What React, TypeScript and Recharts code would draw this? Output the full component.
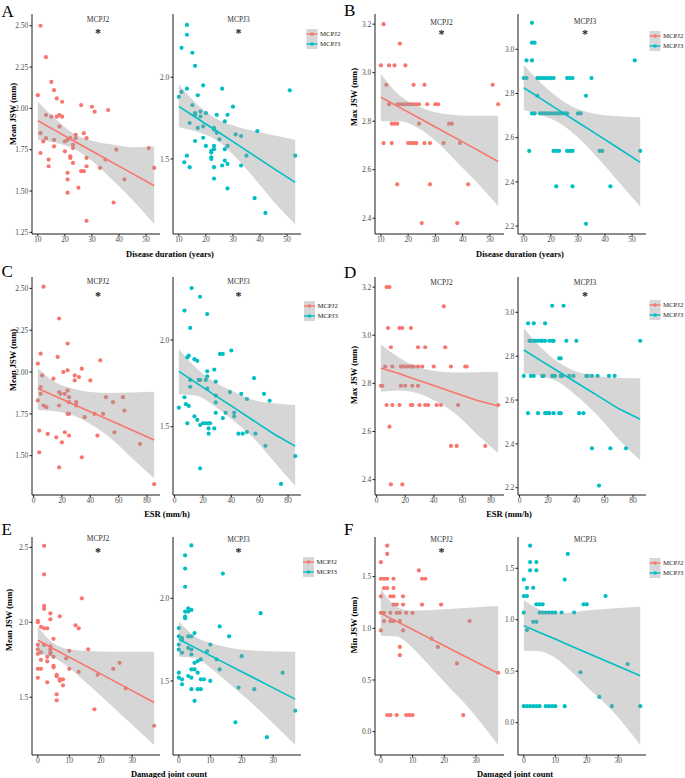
import React from "react"
import { ComposedChart, Scatter, Area, Line, XAxis, YAxis } from "recharts"

const RED = "#F8766D"
const TEAL = "#00BFC4"
const SERIF = "'Liberation Serif', 'Times New Roman', serif"

// x axis ticks
const DUR_TICKS = [10, 20, 30, 40, 50]
const ESR_TICKS = [0, 20, 40, 60, 80]
const DJC_TICKS = [0, 10, 20, 30]

// x positions where the fitted line and the 95% band were read
const DUR_BX = [10, 17, 24, 31, 38, 45, 53]
const ESR_BX = [3, 15, 28, 40, 55, 70, 85]
const DJC_BX = [0, 5, 10, 15, 20, 28, 37]

// A: disease duration vs mean JSW
const A_J2_x = [11, 13, 15, 16, 17, 19, 10, 13, 15, 17, 18, 19, 18, 26, 30, 31, 36, 11, 12, 13, 16, 16, 20, 21, 22, 24, 24, 23, 23, 27, 28, 11, 14, 14, 20, 22, 22, 23, 28, 28, 26, 27, 33, 35, 39, 51, 53, 21, 21, 25, 21, 42, 38, 28]
const A_J2_y = [2.5, 2.31, 2.16, 2.11, 2.06, 2.04, 2.08, 1.96, 1.95, 1.95, 1.96, 1.95, 1.89, 2.02, 2.01, 1.98, 1.99, 1.85, 1.8, 1.82, 1.81, 1.77, 1.8, 1.81, 1.82, 1.82, 1.84, 1.78, 1.76, 1.85, 1.82, 1.73, 1.69, 1.65, 1.74, 1.71, 1.7, 1.67, 1.7, 1.65, 1.62, 1.62, 1.64, 1.69, 1.75, 1.76, 1.64, 1.61, 1.57, 1.52, 1.49, 1.57, 1.43, 1.32]
const A_J2_lo = [1.81, 1.79, 1.75, 1.67, 1.56, 1.445, 1.3]
const A_J2_hi = [2.04, 1.93, 1.84, 1.8, 1.78, 1.765, 1.77]
const A_J2_fit = [1.925, 1.861, 1.797, 1.733, 1.669, 1.605, 1.532]

const A_J3_x = [13, 13, 11, 15, 16, 10, 11, 13, 19, 26, 17, 15, 16, 16, 18, 18, 20, 24, 28, 30, 14, 17, 19, 23, 23, 24, 25, 27, 31, 33, 39, 16, 19, 20, 23, 22, 22, 23, 22, 22, 28, 27, 35, 13, 12, 14, 23, 26, 27, 28, 33, 23, 28, 38, 42, 51, 53]
const A_J3_y = [2.32, 2.26, 2.18, 2.15, 2.07, 1.88, 1.91, 1.93, 1.95, 1.93, 1.89, 1.83, 1.78, 1.77, 1.79, 1.76, 1.78, 1.77, 1.77, 1.82, 1.72, 1.69, 1.7, 1.69, 1.68, 1.66, 1.62, 1.73, 1.65, 1.64, 1.67, 1.61, 1.63, 1.58, 1.58, 1.55, 1.54, 1.56, 1.51, 1.5, 1.58, 1.56, 1.52, 1.52, 1.48, 1.45, 1.45, 1.46, 1.49, 1.47, 1.46, 1.38, 1.32, 1.26, 1.17, 1.92, 1.52]
const A_J3_lo = [1.694, 1.665, 1.615, 1.51, 1.38, 1.24, 1.1]
const A_J3_hi = [1.955, 1.83, 1.745, 1.7, 1.67, 1.645, 1.616]
const A_J3_fit = [1.822, 1.746, 1.671, 1.595, 1.519, 1.443, 1.357]

// B: disease duration vs max JSW (values sit on a few levels)
const B_J2_levels = [3.2, 3.12, 3.03, 2.95, 2.87, 2.79, 2.71, 2.54, 2.38]
const B_J2_xs = [[11], [17], [10, 13, 15, 19], [12, 22, 26, 51], [13, 16, 17, 18, 19, 20, 21, 22, 23, 24, 27, 30, 31, 53], [14, 15, 16, 24, 35, 36], [11, 14, 20, 21, 22, 23, 26, 28, 33, 39], [16, 28, 42], [25, 38]]
const B_J2_lo = [2.8, 2.8, 2.77, 2.71, 2.63, 2.55, 2.45]
const B_J2_hi = [2.995, 2.905, 2.86, 2.835, 2.825, 2.822, 2.823]
const B_J2_fit = [2.899, 2.856, 2.813, 2.77, 2.727, 2.684, 2.634]

const B_J3_levels = [3.12, 3.03, 2.95, 2.87, 2.79, 2.71, 2.54, 2.38, 2.21]
const B_J3_xs = [[13], [13, 14], [11, 13, 51], [10, 11, 15, 16, 17, 18, 19, 20, 21, 26, 27, 28, 35], [15, 33], [13, 14, 16, 17, 18, 19, 20, 21, 22, 23, 24, 25, 26, 30, 31], [12, 21, 22, 23, 26, 27, 28, 38, 39, 53], [22, 28, 42], [33]]
const B_J3_lo = [2.725, 2.7, 2.66, 2.59, 2.5, 2.4, 2.288]
const B_J3_hi = [2.929, 2.84, 2.77, 2.725, 2.705, 2.697, 2.692]
const B_J3_fit = [2.826, 2.771, 2.716, 2.662, 2.607, 2.552, 2.488]

// C: ESR vs mean JSW
const C_J2_x = [7, 18, 24, 5, 17, 3, 6, 21, 24, 34, 47, 14, 29, 29, 32, 40, 51, 24, 18, 19, 25, 22, 5, 5, 3, 7, 9, 18, 25, 30, 30, 36, 43, 49, 56, 63, 64, 4, 10, 16, 22, 24, 25, 25, 4, 20, 34, 18, 45, 57, 75, 85]
const C_J2_y = [2.51, 2.32, 2.17, 2.11, 2.09, 2.05, 1.98, 2.0, 2.01, 2.02, 2.07, 1.96, 1.98, 1.95, 1.97, 1.95, 1.85, 1.89, 1.88, 1.87, 1.85, 1.87, 1.91, 1.87, 1.83, 1.8, 1.79, 1.8, 1.82, 1.8, 1.82, 1.73, 1.75, 1.75, 1.82, 1.85, 1.77, 1.65, 1.63, 1.61, 1.64, 1.75, 1.75, 1.62, 1.52, 1.58, 1.49, 1.43, 1.62, 1.64, 1.57, 1.33]
const C_J2_lo = [1.773, 1.765, 1.74, 1.69, 1.6, 1.48, 1.365]
const C_J2_hi = [2.022, 1.94, 1.9, 1.88, 1.875, 1.878, 1.882]
const C_J2_fit = [1.902, 1.857, 1.808, 1.763, 1.707, 1.65, 1.594]

const C_J3_x = [12, 18, 7, 23, 11, 40, 32, 34, 9, 10, 14, 16, 23, 28, 23, 17, 18, 11, 22, 56, 29, 11, 23, 39, 47, 63, 67, 51, 7, 8, 10, 29, 29, 3, 29, 36, 42, 42, 14, 16, 9, 18, 20, 22, 24, 25, 24, 24, 28, 34, 45, 48, 51, 57, 64, 18, 75, 85]
const C_J3_y = [2.3, 2.25, 2.17, 2.15, 2.07, 1.94, 1.92, 1.92, 1.9, 1.91, 1.89, 1.88, 1.82, 1.83, 1.79, 1.77, 1.77, 1.77, 1.77, 1.78, 1.76, 1.73, 1.72, 1.7, 1.69, 1.69, 1.65, 1.66, 1.67, 1.63, 1.62, 1.68, 1.64, 1.61, 1.58, 1.58, 1.58, 1.56, 1.56, 1.54, 1.52, 1.51, 1.52, 1.52, 1.52, 1.52, 1.49, 1.46, 1.49, 1.55, 1.46, 1.46, 1.47, 1.46, 1.39, 1.26, 1.17, 1.33]
const C_J3_lo = [1.688, 1.68, 1.62, 1.545, 1.44, 1.3, 1.158]
const C_J3_hi = [1.948, 1.84, 1.76, 1.71, 1.655, 1.635, 1.625]
const C_J3_fit = [1.819, 1.754, 1.684, 1.62, 1.539, 1.458, 1.388]

// D: ESR vs max JSW
const D_J2_levels = [3.2, 3.12, 3.03, 2.95, 2.87, 2.79, 2.71, 2.62, 2.54, 2.38]
const D_J2_xs = [[7, 9], [47], [8, 16, 18, 24], [10, 29, 34, 48], [6, 11, 17, 18, 19, 21, 22, 24, 25, 26, 29, 32, 40, 52, 62, 63], [3, 4, 17, 20, 25, 29], [7, 11, 16, 24, 25, 30, 34, 36, 42, 45, 57, 85], [9], [52, 56, 76], [10, 18]]
const D_J2_lo = [2.765, 2.77, 2.76, 2.73, 2.675, 2.59, 2.509]
const D_J2_hi = [2.963, 2.91, 2.87, 2.852, 2.845, 2.846, 2.848]
const D_J2_fit = [2.864, 2.842, 2.815, 2.791, 2.76, 2.73, 2.706]

const D_J3_levels = [3.03, 2.95, 2.87, 2.79, 2.71, 2.54, 2.38, 2.21]
const D_J3_xs = [[23, 31], [6, 10, 18], [7, 8, 10, 11, 13, 15, 16, 18, 21, 23, 24, 33, 40, 85], [28, 29], [3, 8, 10, 16, 17, 23, 24, 25, 29, 30, 35, 38, 47, 48, 51, 55, 63, 67], [6, 13, 18, 19, 20, 21, 24, 28, 29, 42, 45], [51, 64, 75], [56]]
const D_J3_lo = [2.722, 2.71, 2.68, 2.62, 2.53, 2.42, 2.326]
const D_J3_hi = [2.927, 2.84, 2.77, 2.73, 2.71, 2.7, 2.699]
const D_J3_fit = [2.828, 2.78, 2.728, 2.68, 2.62, 2.56, 2.512]

// E: damaged joint count vs mean JSW
const E_J2_x = [2, 2, 2, 2, 4, 4, 0, 0, 7, 14, 12, 13, 1, 2, 3, 5, 0, 0, 2, 4, 4, 4, 4, 1, 0, 10, 16, 3, 3, 1, 5, 9, 5, 5, 0, 1, 10, 6, 6, 7, 7, 8, 8, 13, 19, 24, 26, 0, 3, 6, 6, 18, 28, 37]
const E_J2_y = [2.51, 2.32, 2.11, 2.09, 2.06, 2.02, 2.01, 2.0, 2.04, 2.16, 1.98, 1.96, 1.97, 1.96, 1.96, 1.89, 1.85, 1.82, 1.85, 1.84, 1.82, 1.8, 1.79, 1.8, 1.79, 1.81, 1.82, 1.77, 1.74, 1.75, 1.77, 1.76, 1.71, 1.7, 1.69, 1.69, 1.69, 1.65, 1.64, 1.62, 1.61, 1.62, 1.58, 1.67, 1.65, 1.69, 1.73, 1.63, 1.6, 1.52, 1.48, 1.42, 1.56, 1.31]
const E_J2_lo = [1.789, 1.765, 1.695, 1.605, 1.51, 1.355, 1.182]
const E_J2_hi = [1.971, 1.86, 1.82, 1.81, 1.806, 1.804, 1.804]
const E_J2_fit = [1.88, 1.824, 1.768, 1.712, 1.656, 1.566, 1.465]

const E_J3_x = [4, 2, 2, 2, 14, 3, 4, 2, 3, 2, 2, 26, 13, 0, 16, 3, 4, 5, 0, 1, 1, 0, 0, 3, 4, 1, 4, 10, 9, 7, 6, 5, 4, 5, 12, 13, 20, 3, 6, 0, 0, 1, 1, 4, 7, 8, 10, 6, 7, 4, 5, 19, 24, 33, 37, 18, 28]
const E_J3_y = [2.32, 2.26, 2.18, 2.07, 2.15, 1.94, 1.93, 1.92, 1.92, 1.89, 1.88, 1.91, 1.83, 1.82, 1.77, 1.77, 1.77, 1.79, 1.77, 1.76, 1.75, 1.72, 1.69, 1.7, 1.69, 1.67, 1.66, 1.72, 1.68, 1.63, 1.62, 1.61, 1.57, 1.57, 1.63, 1.57, 1.65, 1.53, 1.55, 1.55, 1.52, 1.51, 1.48, 1.52, 1.51, 1.51, 1.5, 1.45, 1.45, 1.45, 1.38, 1.46, 1.45, 1.55, 1.32, 1.25, 1.16]
const E_J3_lo = [1.647, 1.64, 1.58, 1.5, 1.42, 1.28, 1.113]
const E_J3_hi = [1.859, 1.77, 1.73, 1.705, 1.69, 1.68, 1.677]
const E_J3_fit = [1.752, 1.703, 1.654, 1.605, 1.556, 1.478, 1.39]

// F: damaged joint count vs min JSW
const F_J2_levels = [1.8, 1.72, 1.64, 1.56, 1.48, 1.39, 1.31, 1.23, 1.15, 1.07, 0.98, 0.9, 0.82, 0.74, 0.66, 0.57, 0.16]
const F_J2_xs = [[2], [2], [0], [12], [0, 1, 2, 4, 13, 14], [1, 2, 4], [0, 3, 4, 7], [4, 5, 7, 13, 19], [0, 1, 3, 5, 6, 8, 10], [1, 3, 4, 6, 28], [0, 7], [16], [6, 18], [6], [24], [37], [2, 3, 5, 8, 9, 10, 26]]
const F_J2_lo = [0.929, 0.92, 0.81, 0.65, 0.48, 0.22, -0.129]
const F_J2_hi = [1.381, 1.21, 1.17, 1.175, 1.185, 1.2, 1.216]
const F_J2_fit = [1.145, 1.067, 0.988, 0.91, 0.831, 0.706, 0.565]

const F_J3_levels = [1.72, 1.64, 1.56, 1.48, 1.39, 1.31, 1.23, 1.15, 1.07, 0.98, 0.9, 0.57, 0.49, 0.25, 0.16]
const F_J3_xs = [[2], [14], [2, 4], [2, 4], [0, 13], [1, 3], [0, 1, 26], [4, 5, 6, 19, 20], [0, 5, 6, 7, 8, 9, 10, 12, 16], [3, 4], [1], [33], [18], [24], [0, 1, 2, 3, 4, 5, 7, 8, 9, 10, 13, 28, 37]]
const F_J3_lo = [0.7, 0.695, 0.63, 0.5, 0.35, 0.12, -0.217]
const F_J3_hi = [1.192, 1.1, 1.065, 1.07, 1.09, 1.11, 1.127]
const F_J3_fit = [0.943, 0.877, 0.812, 0.746, 0.68, 0.575, 0.457]

function fromLevels(levels: number[], xs: number[][]) {
  const x: number[] = []
  const y: number[] = []
  levels.forEach((lv, i) => xs[i].forEach((v) => { x.push(v); y.push(lv) }))
  return { x, y }
}

const B2 = fromLevels(B_J2_levels, B_J2_xs)
const B3 = fromLevels(B_J3_levels, B_J3_xs)
const D2 = fromLevels(D_J2_levels, D_J2_xs)
const D3 = fromLevels(D_J3_levels, D_J3_xs)
const F2 = fromLevels(F_J2_levels, F_J2_xs)
const F3 = fromLevels(F_J3_levels, F_J3_xs)

// layout (pixels)
const COLS = [32, 173, 375, 518]
const COL_W = [128, 128, 129, 128]
const ROWS = [14, 277, 537]
const ROW_H = [220, 218, 218]
const YW = 30
const XH = 15

const DUR_DOM = [7.85, 55.15]
const ESR_DOM = [-1.1, 89.1]
const DJC_DOM = [-1.85, 38.85]

const MEAN2 = [1.25, 1.5, 1.75, 2.0, 2.25, 2.5]
const MEAN3 = [1.5, 2.0]
const MAX2 = [2.4, 2.6, 2.8, 3.0, 3.2]
const MAX3 = [2.2, 2.4, 2.6, 2.8, 3.0]
const MEANE2 = [1.5, 2.0, 2.5]
const MIN_T = [0, 0.5, 1.0, 1.5]

const subplots = [
  { col: 0, row: 0, x: A_J2_x, y: A_J2_y, bx: DUR_BX, lo: A_J2_lo, hi: A_J2_hi, fit: A_J2_fit, color: RED, xd: DUR_DOM, xt: DUR_TICKS, yd: [1.24, 2.571], yt: MEAN2, dg: 2 },
  { col: 1, row: 0, x: A_J3_x, y: A_J3_y, bx: DUR_BX, lo: A_J3_lo, hi: A_J3_hi, fit: A_J3_fit, color: TEAL, xd: DUR_DOM, xt: DUR_TICKS, yd: [1.041, 2.387], yt: MEAN3, dg: 1 },
  { col: 2, row: 0, x: B2.x, y: B2.y, bx: DUR_BX, lo: B_J2_lo, hi: B_J2_hi, fit: B_J2_fit, color: RED, xd: DUR_DOM, xt: DUR_TICKS, yd: [2.335, 3.242], yt: MAX2, dg: 1 },
  { col: 3, row: 0, x: B3.x, y: B3.y, bx: DUR_BX, lo: B_J3_lo, hi: B_J3_hi, fit: B_J3_fit, color: TEAL, xd: DUR_DOM, xt: DUR_TICKS, yd: [2.164, 3.16], yt: MAX3, dg: 1 },
  { col: 0, row: 1, x: C_J2_x, y: C_J2_y, bx: ESR_BX, lo: C_J2_lo, hi: C_J2_hi, fit: C_J2_fit, color: RED, xd: ESR_DOM, xt: ESR_TICKS, yd: [1.265, 2.568], yt: MEAN2.slice(1), dg: 2 },
  { col: 1, row: 1, x: C_J3_x, y: C_J3_y, bx: ESR_BX, lo: C_J3_lo, hi: C_J3_hi, fit: C_J3_fit, color: TEAL, xd: ESR_DOM, xt: ESR_TICKS, yd: [1.106, 2.364], yt: MEAN3, dg: 1 },
  { col: 2, row: 1, x: D2.x, y: D2.y, bx: ESR_BX, lo: D_J2_lo, hi: D_J2_hi, fit: D_J2_fit, color: RED, xd: ESR_DOM, xt: ESR_TICKS, yd: [2.336, 3.242], yt: MAX2, dg: 1 },
  { col: 3, row: 1, x: D3.x, y: D3.y, bx: ESR_BX, lo: D_J3_lo, hi: D_J3_hi, fit: D_J3_fit, color: TEAL, xd: ESR_DOM, xt: ESR_TICKS, yd: [2.167, 3.161], yt: MAX3, dg: 1 },
  { col: 0, row: 2, x: E_J2_x, y: E_J2_y, bx: DJC_BX, lo: E_J2_lo, hi: E_J2_hi, fit: E_J2_fit, color: RED, xd: DJC_DOM, xt: DJC_TICKS, yd: [1.115, 2.569], yt: MEANE2, dg: 1 },
  { col: 1, row: 2, x: E_J3_x, y: E_J3_y, bx: DJC_BX, lo: E_J3_lo, hi: E_J3_hi, fit: E_J3_fit, color: TEAL, xd: DJC_DOM, xt: DJC_TICKS, yd: [1.052, 2.371], yt: MEAN3, dg: 1 },
  { col: 2, row: 2, x: F2.x, y: F2.y, bx: DJC_BX, lo: F_J2_lo, hi: F_J2_hi, fit: F_J2_fit, color: RED, xd: DJC_DOM, xt: DJC_TICKS, yd: [-0.226, 1.884], yt: MIN_T, dg: 1 },
  { col: 3, row: 2, x: F3.x, y: F3.y, bx: DJC_BX, lo: F_J3_lo, hi: F_J3_hi, fit: F_J3_fit, color: TEAL, xd: DJC_DOM, xt: DJC_TICKS, yd: [-0.314, 1.804], yt: MIN_T, dg: 1 },
]

const tickStyle = { fontSize: 7.5, fill: "#4d4d4d", fontFamily: SERIF }

function Subplot({ s }: { s: any }) {
  const left = COLS[s.col] - YW
  const top = ROWS[s.row]
  const w = COL_W[s.col] + YW
  const h = ROW_H[s.row] + XH
  const pts = s.x.map((x: number, i: number) => ({ x, y: s.y[i] }))
  const band = s.bx.map((x: number, i: number) => ({ x, range: [s.lo[i], s.hi[i]], fit: s.fit[i] }))
  const dot = (p: any) => <circle cx={p.cx} cy={p.cy} r={2.1} fill={s.color} />
  return (
    <>
      <div style={{ position: "absolute", left, top }}>
        <ComposedChart width={w} height={h} data={pts} margin={{ top: 0, right: 0, bottom: 0, left: 0 }}>
          <XAxis type="number" dataKey="x" domain={s.xd} ticks={s.xt} interval={0} allowDataOverflow height={XH}
            stroke="#1a1a1a" tickSize={2.5} tickMargin={0} tick={tickStyle} />
          <YAxis type="number" dataKey="y" domain={s.yd} ticks={s.yt} interval={0} allowDataOverflow width={YW}
            stroke="#1a1a1a" tickSize={2.5} tickMargin={1.2} tick={tickStyle}
            tickFormatter={(v: number) => v.toFixed(s.dg)} />
          <Scatter data={pts} dataKey="y" shape={dot} isAnimationActive={false} />
        </ComposedChart>
      </div>
      <div style={{ position: "absolute", left, top, pointerEvents: "none" }}>
        <ComposedChart width={w} height={h} data={band} margin={{ top: 0, right: 0, bottom: XH, left: YW }}>
          <XAxis type="number" dataKey="x" domain={s.xd} allowDataOverflow hide />
          <YAxis type="number" domain={s.yd} allowDataOverflow hide />
          <Area dataKey="range" type="monotone" fill="#999999" fillOpacity={0.4} stroke="none" isAnimationActive={false} />
          <Line dataKey="fit" type="linear" stroke={s.color} strokeWidth={1.6} dot={false} isAnimationActive={false} />
        </ComposedChart>
      </div>
    </>
  )
}

const LETTERS = ["A", "B", "C", "D", "E", "F"]
const Y_TITLES = ["Mean JSW (mm)", "Max JSW (mm)", "Mean JSW (mm)", "Max JSW (mm)", "Mean JSW (mm)", "Min JSW (mm)"]
const X_TITLES = ["Disease duration (years)", "Disease duration (years)", "ESR (mm/h)", "ESR (mm/h)", "Damaged joint count", "Damaged joint count"]
const SERIES = ["MCPJ2", "MCPJ3"]
const STARS = [true, true, true, true, true, true, false, true, true, true, true, false]

const letterPos = [[1.5, 17], [344, 16], [1.5, 277], [344, 278], [1.5, 535], [344, 535]]
const yTitlePos = [[13, 114], [354, 97], [13, 360], [354, 375], [9, 620], [354, 625]]
const xTitlePos = [[170, 253.5], [520, 253.5], [167, 513.5], [509, 513.5], [169, 773.5], [515, 773.5]]
const legendPos = [[306.5, 29], [649.5, 31], [304, 301], [649.5, 300], [303, 557], [649.5, 558]]
const titleX = [98, 238.5, 441.5, 585]
const titleY = [[19.5, 19.5, 22, 21.7], [281.7, 281.7, 282.3, 282.3], [538.5, 539, 539, 539]]
const starY = [[31, 31, 32.3, 32.3], [294, 294, 294.3, 294.3], [550.7, 550.7, 550.7, 550.7]]

function Texts() {
  return (
    <svg width={685} height={778} style={{ position: "absolute", left: 0, top: 0, pointerEvents: "none" }} fontFamily={SERIF}>
      {LETTERS.map((t, i) => (
        <text key={t} x={letterPos[i][0]} y={letterPos[i][1]} fontSize={17} fill="#000">{t}</text>
      ))}
      {Y_TITLES.map((t, i) => (
        <text key={"y" + i} x={0} y={0} fontSize={8.5} fontWeight="bold" fill="#000" textAnchor="middle"
          dominantBaseline="central" transform={`translate(${yTitlePos[i][0]},${yTitlePos[i][1]}) rotate(-90)`}>{t}</text>
      ))}
      {X_TITLES.map((t, i) => (
        <text key={"x" + i} x={xTitlePos[i][0]} y={xTitlePos[i][1]} fontSize={8.5} fontWeight="bold" fill="#000"
          textAnchor="middle" dominantBaseline="central">{t}</text>
      ))}
      {subplots.map((s, i) => (
        <g key={"t" + i}>
          <text x={titleX[s.col]} y={titleY[s.row][s.col] + 2.6} fontSize={7.5} fill="#333" textAnchor="middle">
            {SERIES[s.col % 2]}
          </text>
          {STARS[i] && (
            <text x={titleX[s.col]} y={starY[s.row][s.col] + 5.6} fontSize={12} fontWeight="bold" fill="#222" textAnchor="middle">*</text>
          )}
        </g>
      ))}
      {legendPos.map((p, i) => (
        <g key={"l" + i}>
          {SERIES.map((name, k) => {
            const c = k === 0 ? RED : TEAL
            const y0 = p[1] + k * 10
            return (
              <g key={name}>
                <rect x={p[0]} y={y0} width={11} height={10} fill="#d6d6d6" />
                <line x1={p[0]} x2={p[0] + 11} y1={y0 + 5} y2={y0 + 5} stroke={c} strokeWidth={1.4} />
                <circle cx={p[0] + 5.5} cy={y0 + 5} r={1.8} fill={c} />
                <text x={p[0] + 13.5} y={y0 + 7.4} fontSize={6.8} fill="#222">{name}</text>
              </g>
            )
          })}
        </g>
      ))}
    </svg>
  )
}

export default function App() {
  return (
    <div style={{ position: "absolute", left: 0, top: 0, width: 685, height: 778, background: "#fff", overflow: "hidden" }}>
      {subplots.map((s, i) => <Subplot key={i} s={s} />)}
      <Texts />
    </div>
  )
}
